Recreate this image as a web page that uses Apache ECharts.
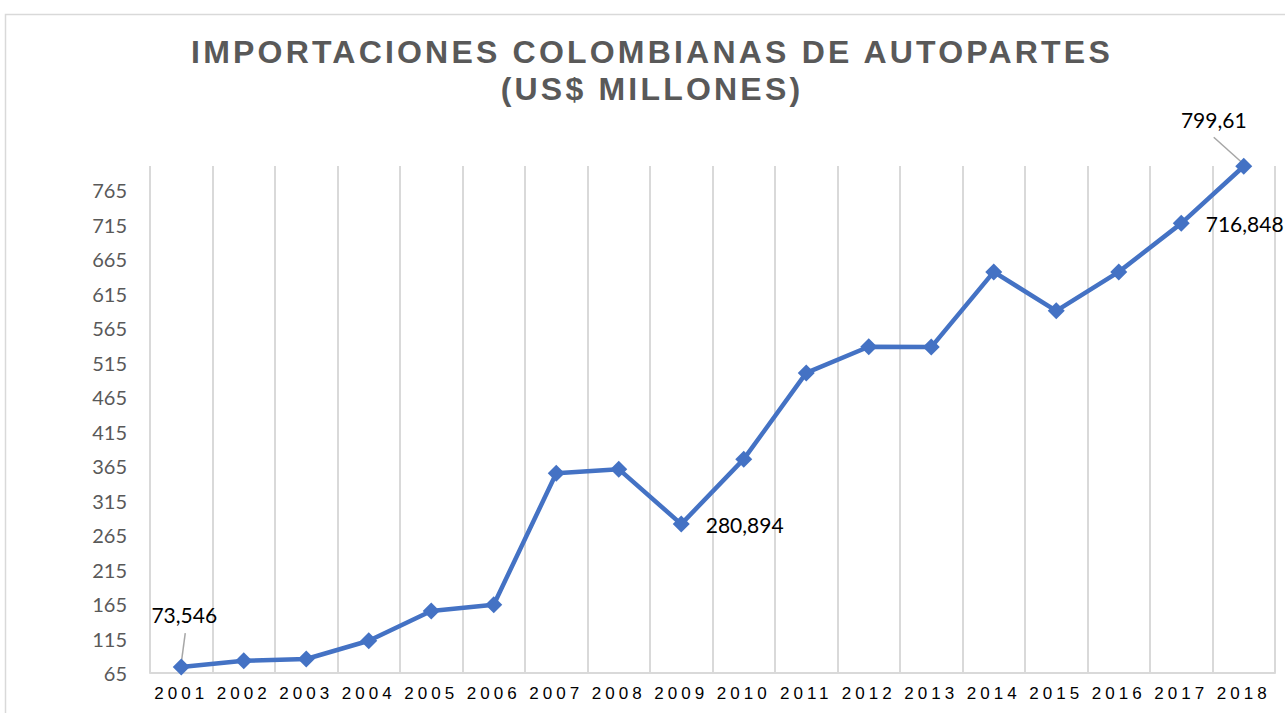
<!DOCTYPE html>
<html>
<head>
<meta charset="utf-8">
<title>Importaciones colombianas de autopartes</title>
<script src="https://cdn.jsdelivr.net/npm/echarts@6/dist/echarts.min.js"></script>
<style>
  html, body { margin: 0; padding: 0; background: #fff; }
  #box { width: 1285px; height: 713px; }
  /* espaciado de letras como en el original (titulo y años) */
  #box text[style*="Liberation Sans"][style*="32px"] { letter-spacing: 3.2px; }
  #box text[style*="Liberation Sans"][style*="17px"] { letter-spacing: 4px; }
</style>
</head>
<body>
<div id="box"></div>
<script>
// datos
const years = ['2001', '2002', '2003', '2004', '2005', '2006', '2007', '2008', '2009',
  '2010', '2011', '2012', '2013', '2014', '2015', '2016', '2017', '2018'];
const imports = [73.546, 82.8, 85.3, 111.8, 155, 164, 354.5, 360.5, 280.894,
  375, 500, 538, 537.5, 646.5, 590, 646.5, 716.848, 799.61];
const labeled = [0, 8, 16, 17];   // puntos con etiqueta
const guided = [0, 17];           // etiquetas con linea guia
const yMin = 65, yMax = 800, yStep = 50;

const blue = '#4472C4';

const seriesData = imports.map(function (v, i) {
  const item = { value: v };
  if (labeled.indexOf(i) >= 0) {
    const right = guided.indexOf(i) < 0;
    item.label = {
      show: true,
      position: right ? 'right' : 'top',
      distance: right ? 16 : 5,
      offset: i === 8 ? [0, 3] : [0, 0]
    };
  }
  return item;
});

// desplazamiento (px) de etiqueta y de inicio/fin de la linea guia
const moved = { 0: [3, -29], 17: [-30, -23] };
const guideOff = { 0: [4, -34, 0, -4], 17: [-30, -29, -1, -3] };

let myChart = echarts.init(document.getElementById('box'), null, { renderer: 'svg' });

let option = {
  backgroundColor: '#fff',
  animation: false,
  title: {
    text: 'IMPORTACIONES COLOMBIANAS DE AUTOPARTES\n(US$ MILLONES)',
    left: 647,
    textAlign: 'center',
    top: 28,
    textStyle: {
      fontFamily: 'Liberation Sans',
      fontWeight: 'bold',
      fontSize: 32,
      lineHeight: 37,
      color: '#595959'
    }
  },
  graphic: [{
    type: 'rect',
    left: 3, top: 12,
    shape: { width: 1320, height: 760 },
    style: { fill: 'none', stroke: '#d9d9d9', lineWidth: 1.5 },
    silent: true
  }],
  grid: { left: 150, right: 10, top: 166, bottom: 40 },
  xAxis: {
    type: 'category',
    data: years,
    boundaryGap: true,
    axisLine: { show: true, lineStyle: { color: '#d9d9d9', width: 2 } },
    axisTick: { show: false },
    splitLine: { show: true, lineStyle: { color: '#d9d9d9', width: 2 } },
    axisLabel: {
      interval: 0,
      margin: 12,
      fontFamily: 'Liberation Sans',
      fontSize: 17,
      color: '#000'
    }
  },
  yAxis: {
    type: 'value',
    min: yMin,
    max: yMax,
    interval: yStep,
    axisLine: { show: false },
    axisTick: { show: false },
    splitLine: { show: false },
    axisLabel: {
      showMaxLabel: false,
      margin: 23,
      fontFamily: 'Lato',
      fontSize: 20,
      color: '#595959'
    }
  },
  series: [{
    // lineas guia de las etiquetas
    type: 'custom',
    z: 1,
    silent: true,
    data: guided.map(function (i) { return [i, imports[i]]; }),
    renderItem: function (params, api) {
      const idx = api.value(0);
      const p = api.coord([idx, api.value(1)]);
      const o = guideOff[idx];
      return {
        type: 'line',
        shape: { x1: p[0] + o[0], y1: p[1] + o[1], x2: p[0] + o[2], y2: p[1] + o[3] },
        style: { stroke: '#a6a6a6', lineWidth: 1.5 }
      };
    }
  }, {
    type: 'line',
    z: 2,
    data: seriesData,
    symbol: 'diamond',
    symbolSize: 17,
    lineStyle: { color: blue, width: 4.5 },
    itemStyle: { color: blue },
    label: {
      show: false,
      fontFamily: 'Lato',
      fontSize: 21,
      color: '#000',
      formatter: function (p) { return String(p.value).replace('.', ','); }
    },
    labelLayout: function (p) {
      const d = moved[p.dataIndex];
      return d ? { dx: d[0], dy: d[1] } : {};
    }
  }]
};

myChart.setOption(option);
</script>
</body>
</html>
